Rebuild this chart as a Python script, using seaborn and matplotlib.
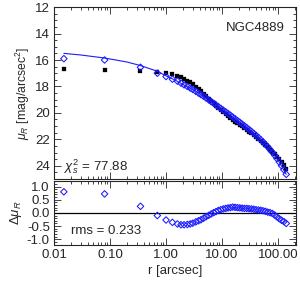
import matplotlib
matplotlib.use("Agg")
import matplotlib.pyplot as plt
import matplotlib.ticker as mticker
import numpy as np
import pandas as pd
import seaborn as sns

# ----------------------------------------------------------------------------
# Data (NGC4889 surface-brightness profile)
# ----------------------------------------------------------------------------
RADIUS = [0.015, 0.08, 0.35, 0.7, 1.0, 1.3, 1.6, 1.85, 2.1, 2.4, 2.7, 3.0,
          3.4, 3.8, 4.2, 4.7, 5.2, 5.8, 6.4, 7.1, 7.8, 8.6, 9.5, 10.5, 11.6,
          12.8, 14.1, 15.5, 17.1, 18.8, 20.7, 22.8, 25.1, 27.6, 30.4, 33.4,
          36.8, 40.5, 44.5, 49.0, 53.9, 59.3, 65.2, 71.7, 78.9, 86.8, 95.5,
          105.0, 115.5, 127.0, 140.0]

# model profile (open diamonds)
MU_MODEL = [15.90, 16.00, 16.55, 17.00, 17.25, 17.45, 17.60, 17.75, 17.88,
            18.00, 18.12, 18.23, 18.37, 18.50, 18.62, 18.75, 18.88, 19.02,
            19.15, 19.28, 19.40, 19.53, 19.66, 19.79, 19.92, 20.05, 20.18,
            20.31, 20.45, 20.58, 20.71, 20.85, 20.98, 21.12, 21.26, 21.40,
            21.55, 21.70, 21.86, 22.02, 22.19, 22.37, 22.56, 22.76, 22.97,
            23.20, 23.45, 23.72, 24.00, 24.30, 24.65]

# residual observed - model (lower panel)
RESID = [0.80, 0.72, 0.25, -0.10, -0.27, -0.36, -0.42, -0.45, -0.45, -0.44,
         -0.42, -0.39, -0.34, -0.30, -0.26, -0.20, -0.14, -0.09, -0.04, 0.01,
         0.05, 0.09, 0.12, 0.15, 0.17, 0.19, 0.20, 0.22, 0.21, 0.20, 0.19,
         0.18, 0.17, 0.17, 0.16, 0.15, 0.14, 0.12, 0.11, 0.10, 0.08, 0.06,
         0.03, 0.01, -0.02, -0.08, -0.15, -0.22, -0.28, -0.33, -0.40]

# observed profile (filled squares)
MU_OBS = [16.70, 16.72, 16.80, 16.90, 16.98, 17.09, 17.18, 17.30, 17.43,
          17.56, 17.70, 17.84, 18.03, 18.20, 18.36, 18.55, 18.74, 18.93,
          19.11, 19.29, 19.45, 19.62, 19.78, 19.94, 20.09, 20.24, 20.38,
          20.53, 20.66, 20.78, 20.90, 21.03, 21.15, 21.29, 21.42, 21.55,
          21.69, 21.82, 21.97, 22.12, 22.27, 22.43, 22.59, 22.77, 22.95,
          23.12, 23.30, 23.50, 23.72, 23.97, 24.25]

# intrinsic model curve (solid line)
LINE_R = [0.015, 0.03, 0.08, 0.2, 0.35, 0.7, 1.0, 1.5, 2.0, 3.0, 4.0, 6.0,
          8.0, 11.0, 15.0, 20.0, 30.0, 45.0, 60.0, 80.0, 100.0, 120.0, 140.0]
LINE_MU = [15.50, 15.62, 15.85, 16.15, 16.42, 16.85, 17.20, 17.55, 17.85,
           18.23, 18.56, 19.07, 19.43, 19.85, 20.26, 20.64, 21.24, 21.87,
           22.40, 23.00, 23.58, 24.15, 24.65]

GALAXY = "NGC4889"
CHI2 = 77.88
RMS = 0.233

BLUE = "#1a1aff"
FS = 9.5

sns.set_style("ticks")
plt.rcParams["font.family"] = ["Liberation Sans", "DejaVu Sans"]
plt.rcParams["mathtext.fontset"] = "custom"
plt.rcParams["mathtext.rm"] = "Liberation Sans"
plt.rcParams["mathtext.it"] = "Liberation Sans:italic"
plt.rcParams["font.size"] = FS

prof = pd.DataFrame({"r": RADIUS, "model": MU_MODEL, "obs": MU_OBS, "resid": RESID})
line = pd.DataFrame({"r": LINE_R, "mu": LINE_MU})

fig = plt.figure(figsize=(3.0, 2.85), dpi=100)
ax = fig.add_axes([0.18, 0.372, 0.807, 0.603])
axr = fig.add_axes([0.18, 0.142, 0.807, 0.222])

sns.scatterplot(data=prof, x="r", y="obs", marker="s", s=7, color="black",
                edgecolor="black", linewidth=0.2, ax=ax, zorder=2)
sns.lineplot(data=line, x="r", y="mu", color=BLUE, linewidth=0.8, ax=ax, zorder=3)
sns.scatterplot(data=prof, x="r", y="model", marker="D", s=11, facecolors="none",
                edgecolor=BLUE, linewidth=0.75, ax=ax, zorder=4)

sns.scatterplot(data=prof, x="r", y="resid", marker="D", s=11, facecolors="none",
                edgecolor=BLUE, linewidth=0.75, ax=axr, zorder=4)
axr.axhline(0.0, color="black", linewidth=0.9, zorder=1)

for a in (ax, axr):
    a.set_xscale("log")
    a.set_xlim(0.01, 210)
    a.tick_params(which="both", direction="in", top=True, right=True,
                  width=0.6, labelsize=FS, pad=3)
    a.tick_params(which="major", length=5)
    a.tick_params(which="minor", length=2.5)
    a.xaxis.set_major_locator(mticker.LogLocator(base=10))
    a.xaxis.set_minor_locator(mticker.LogLocator(base=10, subs=np.arange(2, 10)))
    for sp in a.spines.values():
        sp.set_linewidth(0.8)
    a.set_xlabel("")
    a.set_ylabel("")

ax.set_ylim(25, 12)
ax.yaxis.set_major_locator(mticker.MultipleLocator(2))
ax.yaxis.set_minor_locator(mticker.MultipleLocator(0.5))
ax.xaxis.set_major_formatter(mticker.NullFormatter())
ax.set_ylabel(r"$\mu_R$ [mag/arcsec$^2$]", fontsize=8.8, labelpad=2)

axr.set_ylim(-1.2, 1.2)
axr.yaxis.set_major_locator(mticker.MultipleLocator(0.5))
axr.yaxis.set_minor_locator(mticker.MultipleLocator(0.1))
axr.yaxis.set_major_formatter(mticker.FormatStrFormatter("%.1f"))
axr.xaxis.set_major_formatter(mticker.FormatStrFormatter("%.2f"))
axr.set_ylabel(r"$\Delta\mu_R$", labelpad=2)
axr.set_xlabel("r [arcsec]", labelpad=3)

ax.text(0.955, 0.88, GALAXY, transform=ax.transAxes, ha="right", va="center")
ax.text(0.04, 0.07, r"$\chi^2_s$ = %.2f" % CHI2, transform=ax.transAxes,
        ha="left", va="center")
axr.text(0.07, 0.22, "rms = %.3f" % RMS, transform=axr.transAxes,
         ha="left", va="center")

fig.savefig("out.png", dpi=100)
